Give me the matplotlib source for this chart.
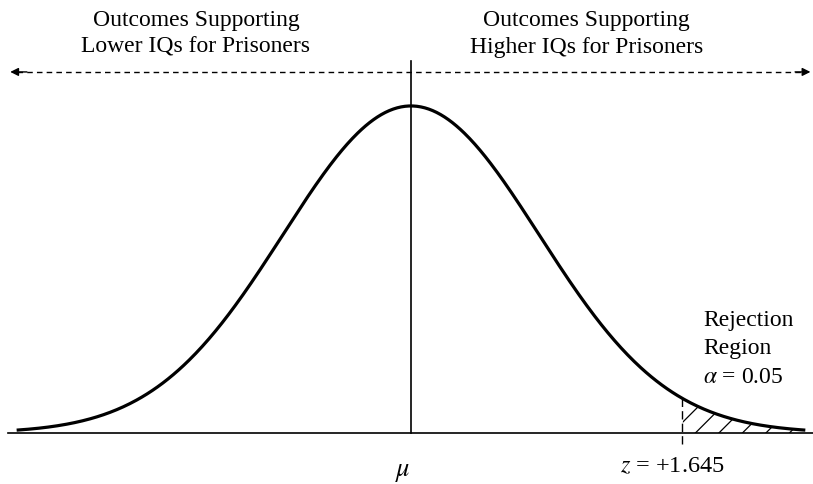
import numpy as np
import matplotlib
matplotlib.use('Agg')
import matplotlib.pyplot as plt
from matplotlib.patches import Polygon

plt.rcParams['font.family'] = ['Liberation Serif', 'DejaVu Serif']
plt.rcParams['mathtext.fontset'] = 'stix'

# curve in standard units, drawn from -3.08 to +3.08
curve_lo, curve_hi = -3.08, 3.08
cutoff = 2.12            # where the z = +1.645 mark sits on the drawn curve
left_label = ["Outcomes Supporting", "Lower IQs for Prisoners"]
right_label = ["Outcomes Supporting", "Higher IQs for Prisoners"]
region_label = ["Rejection", "Region", r"$\alpha$ = 0.05"]
mean_label = r"$\mu$"
cut_label = r"$z$ = +1.645"

x = np.linspace(curve_lo, curve_hi, 600)
y = np.exp(-x ** 2 / 2)

fig = plt.figure(figsize=(8.13, 4.85), dpi=100)
ax = fig.add_axes([0, 0, 1, 1])
ax.set_xlim(-3.21, 3.14)
ax.set_ylim(-0.156, 1.327)
ax.axis('off')

# baseline and curve
ax.plot([-3.15, 3.2], [0, 0], color='black', lw=1.2)
ax.plot(x, y, color='black', lw=2.3, solid_capstyle='butt', zorder=3)

# hatched tail: 45 degree lines (in pixels) clipped to the area under the curve
tail = x >= cutoff
verts = np.column_stack([np.r_[x[tail], x[tail][::-1]],
                         np.r_[y[tail], np.zeros(tail.sum())]])
clip = Polygon(verts, closed=True, facecolor='none', edgecolor='none')
ax.add_patch(clip)
px_x, px_y = 128.0, 327.0       # pixels per data unit
step = 23.5 / px_x
for x0 in np.arange(cutoff - 1.0, curve_hi, step):
    rise = 1.0
    ln, = ax.plot([x0, x0 + rise * px_y / px_x], [0, rise],
                  color='black', lw=0.9)
    ln.set_clip_path(clip)
ax.plot([cutoff, cutoff], [-0.035, np.exp(-cutoff ** 2 / 2)],
        color='black', lw=1.0, linestyle=(0, (6, 3)))

# mean line
ax.plot([0, 0], [0, 1.138], color='black', lw=1.2)

# dashed double arrow
arr_y = 1.104
ax.plot([-3.08, 3.06], [arr_y, arr_y], color='black', lw=1.0,
        linestyle=(0, (4, 3)))
for x0, x1 in [(-3.0, -3.13), (3.0, 3.12)]:
    ax.annotate('', xy=(x1, arr_y), xytext=(x0, arr_y),
                arrowprops=dict(arrowstyle='-|>', color='black', lw=1.0,
                                mutation_scale=12, shrinkA=0, shrinkB=0))

# labels
ax.text(-1.68, 1.223, "\n".join(left_label), ha='center', va='center',
        fontsize=17, linespacing=1.35)
ax.text(1.37, 1.223, "\n".join(right_label), ha='center', va='center',
        fontsize=17, linespacing=1.35)
ax.text(2.28, 0.26, "\n".join(region_label), ha='left', va='center',
        fontsize=17, linespacing=1.45)
ax.text(-0.06, -0.12, mean_label, ha='center', va='center', fontsize=19)
ax.text(2.04, -0.10, cut_label, ha='center', va='center', fontsize=17.5)

fig.savefig('out.png', dpi=100)
